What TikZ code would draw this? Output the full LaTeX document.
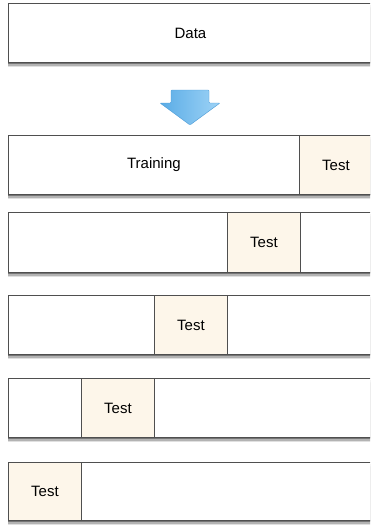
\documentclass[tikz,border=0pt]{standalone}
\usepackage{fontspec}
\setmainfont{Liberation Sans}
\usetikzlibrary{shadows}
\definecolor{testfill}{HTML}{FDF6EA}
\definecolor{edge}{HTML}{4F4F4F}
\definecolor{arrowL}{HTML}{5AACE6}
\definecolor{arrowR}{HTML}{9ED3F6}
\definecolor{arrowE}{HTML}{4A9AD6}
\begin{document}
\begin{tikzpicture}[x=1pt,y=-1pt,
  box/.style={draw=edge, line width=0.9pt, fill=white, inner sep=0pt, anchor=north west,
    minimum height=59pt, font=\fontsize{15}{18}\selectfont},
  shad/.style={general shadow={fill=black, opacity=.12, shadow yshift=-5pt, shadow xshift=-0.5pt},
               general shadow={fill=black, opacity=.2, shadow yshift=-3.5pt, shadow xshift=-0.5pt},
               general shadow={fill=black, opacity=.35, shadow yshift=-2pt, shadow xshift=-0.5pt}},
  testc/.style={box, fill=testfill, minimum width=73pt},
  fullrow/.style={box, shad, minimum width=364pt},
]
\useasboundingbox (0,0) rectangle (370,527);
\clip (0,0) rectangle (370,527);

\node[fullrow] (data) at (8,3) {Data};

\shade[left color=arrowL, right color=arrowR, draw=arrowE, line width=0.4pt, rounded corners=0.8pt]
  (171,90) -- (209,90) -- (209,103) -- (220,103) -- (190,125) -- (160,103) -- (171,103) -- cycle;

\node[fullrow] (r1) at (8,135) {};
\node[box, minimum width=291pt] (train) at (8,135) {Training};
\node[testc] (t1) at (299,135) {Test};

\node[fullrow, minimum height=60pt] (r2) at (8,212) {};
\node[testc, minimum height=60pt] (t2) at (227,212) {Test};

\node[fullrow] (r3) at (8,295) {};
\node[testc] (t3) at (154,295) {Test};

\node[fullrow] (r4) at (8,378) {};
\node[testc] (t4) at (81,378) {Test};

\node[fullrow, minimum height=58pt] (r5) at (8,462) {};
\node[testc, minimum height=58pt] (t5) at (8,462) {Test};
\end{tikzpicture}
\end{document}
